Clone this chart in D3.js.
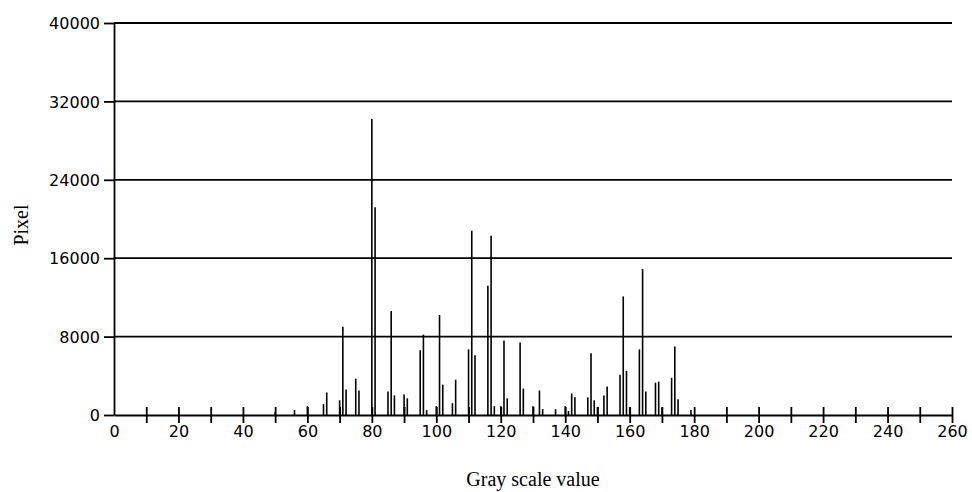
<!DOCTYPE html>
<html>
<head>
<meta charset="utf-8">
<script src="https://cdn.jsdelivr.net/npm/d3@7"></script>
<style>
  body { margin: 0; background: #fff; }
  .tick text { font-family: 'DejaVu Sans', sans-serif; font-size: 16px; fill: #000; }
  .axis path, .axis line { stroke: #000; stroke-width: 1.8; }
  .grid { stroke: #000; stroke-width: 1.8; }
  .spike { stroke: #000; stroke-width: 1.6; }
  .label { font-family: 'Liberation Serif', serif; font-size: 20px; fill: #000; }
</style>
</head>
<body>
<div id="chart"></div>
<script>
// histogram values
const grayValues = [50, 56, 60, 65, 66, 70, 71, 72, 75, 76, 80, 81, 85, 86, 87, 90, 91, 95, 96, 97,
  100, 101, 102, 105, 106, 110, 111, 112, 116, 117, 118, 120, 121, 122, 126, 127, 130, 132, 133, 137,
  140, 141, 142, 143, 147, 148, 149, 150, 152, 153, 157, 158, 159, 160, 163, 164, 165, 168, 169, 170,
  173, 174, 175, 179];
const pixelCounts = [300, 500, 900, 1100, 2300, 1500, 9000, 2600, 3700, 2500, 30200, 21200, 2400, 10600, 2000, 2100, 1700, 6600, 8200, 500,
  900, 10200, 3100, 1200, 3600, 6700, 18800, 6100, 13200, 18300, 900, 900, 7600, 1700, 7400, 2700, 900, 2500, 600, 600,
  900, 400, 2200, 1800, 1800, 6300, 1500, 800, 2000, 2900, 4100, 12100, 4500, 800, 6700, 14900, 2400, 3300, 3400, 800,
  3800, 7000, 1600, 500];
const xTicks = d3.range(0, 261, 10);
const yTicks = [0, 8000, 16000, 24000, 32000, 40000];

const svg = d3.select('#chart')
  .append('svg')
  .attr('width', 972)
  .attr('height', 492);

const x = d3.scaleLinear().domain([0, 260]).range([114, 952]);
const y = d3.scaleLinear().domain([0, 40000]).range([415, 23]);

// horizontal grid lines
svg.selectAll('.grid')
  .data(yTicks.slice(1))
  .enter()
  .append('line')
  .attr('class', 'grid')
  .attr('x1', x(0))
  .attr('x2', x(260))
  .attr('y1', d => y(d))
  .attr('y2', d => y(d));

// spikes
svg.selectAll('.spike')
  .data(grayValues)
  .enter()
  .append('line')
  .attr('class', 'spike')
  .attr('x1', d => x(d))
  .attr('x2', d => x(d))
  .attr('y1', y(0))
  .attr('y2', (d, i) => y(pixelCounts[i]));

// y axis
svg.append('g')
  .attr('class', 'axis')
  .attr('transform', `translate(${x(0)},0)`)
  .call(d3.axisLeft(y).tickValues(yTicks).tickSize(10).tickPadding(4).tickSizeOuter(0)
    .tickFormat(d3.format('d')))
  .call(g => g.selectAll('.tick text').attr('dy', '0.36em'));

// x axis, ticks crossing the line
svg.append('g')
  .attr('class', 'axis')
  .attr('transform', `translate(0,${y(0)})`)
  .call(d3.axisBottom(x).tickValues(xTicks).tickSizeOuter(0)
    .tickFormat(d => d % 20 === 0 ? d : ''))
  .call(g => g.selectAll('.tick line').attr('y1', -8).attr('y2', 8))
  .call(g => g.selectAll('.tick text').attr('y', 11).attr('dy', '0.71em'))
  .call(g => g.selectAll('.tick').filter(d => d === 0).select('line').remove());

// axis titles
svg.append('text')
  .attr('class', 'label')
  .attr('x', 533)
  .attr('y', 486)
  .attr('text-anchor', 'middle')
  .text('Gray scale value');

svg.append('text')
  .attr('class', 'label')
  .attr('transform', 'translate(28,225) rotate(-90)')
  .attr('text-anchor', 'middle')
  .text('Pixel');
</script>
</body>
</html>
